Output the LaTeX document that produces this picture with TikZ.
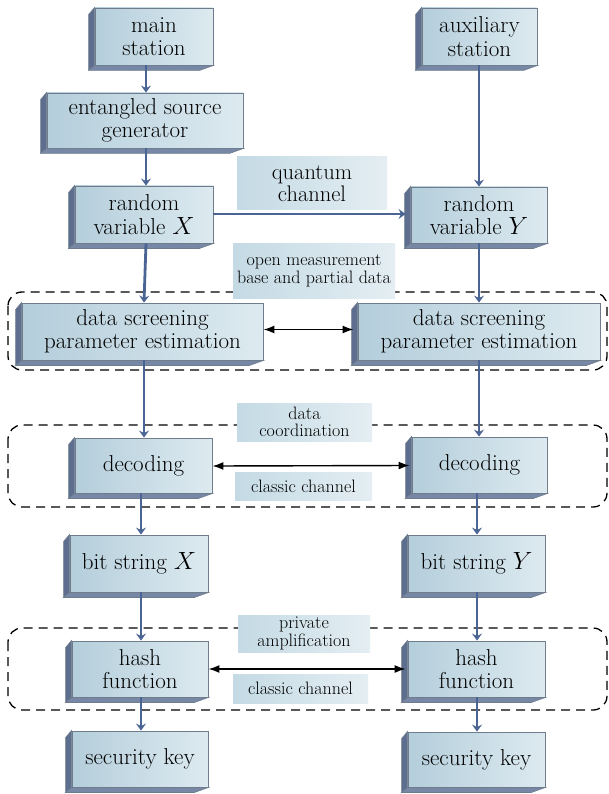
\documentclass[tikz,border=0pt]{standalone}
\usetikzlibrary{arrows.meta,calc}
\definecolor{faceL}{HTML}{B4CEDB}
\definecolor{faceR}{HTML}{DDEAF0}
\definecolor{boxline}{HTML}{6E7C8C}
\definecolor{stripL}{HTML}{5D6E8E}
\definecolor{stripB}{HTML}{7787A6}
\definecolor{labL}{HTML}{C4DAE4}
\definecolor{labR}{HTML}{E4EEF3}
\definecolor{arrblue}{HTML}{4A6494}
\tikzset{
  box/.style={draw=boxline, line width=0.9pt, left color=faceL, right color=faceR,
    align=center, inner sep=0pt, font=\fontsize{23}{23.5}\selectfont},
  lab/.style={left color=labL, right color=labR, align=center, inner sep=0pt,
    font=\fontsize{18}{17.5}\selectfont},
  biglab/.style={lab, font=\fontsize{22.5}{22.5}\selectfont},
  grp/.style={draw=black, line width=1.3pt, dash pattern=on 9pt off 6pt, rounded corners=14pt},
  barrow/.style={draw=arrblue, line width=2.8pt, -{Stealth[length=7pt,width=10pt,inset=2.5pt]}},
  karrow/.style={draw=black, line width=1.4pt, {Latex[length=11pt,width=8pt]}-{Latex[length=11pt,width=8pt]}},
  sideL/.style={fill=stripL, draw=boxline, line width=0.6pt},
  sideB/.style={fill=stripB, draw=boxline, line width=0.6pt}
}
\newcommand{\bx}[6]{%
  \node[box, minimum width={(#3-#2)*1pt}, minimum height={(#5-#4)*1pt}] (#1) at ({(#2+#3)/2},{(#4+#5)/2}) {#6};
  \filldraw[sideL] (#1.north west) -- ++(-6,7) -- ($(#1.south west)+(-6,5)$) -- (#1.south west) -- cycle;
  \filldraw[sideB] (#1.south west) -- (#1.south east) -- ++(-14,5) -- ($(#1.south west)+(-6,5)$) -- cycle;
}
\begin{document}
\begin{tikzpicture}[x=1pt,y=-1pt]
\useasboundingbox[fill=white] (0,0) rectangle (609,794);
% group frames
\draw[grp] (8,292) rectangle (607,370);
\draw[grp] (8,425) rectangle (607,507);
\draw[grp] (8,628) rectangle (607,710);
% labels
\node[biglab, minimum width=150pt, minimum height=53pt] (lq) at (312,183.5) {quantum\\channel};
\node[lab, minimum width=162pt, minimum height=55pt] (lo) at (314,270.5) {open measurement\\base and partial data};
\node[lab, minimum width=135pt, minimum height=38pt] (ldc) at (304.5,422) {data\\coordination};
\node[lab, minimum width=137pt, minimum height=28pt] (lc1) at (303.5,486) {classic channel};
\node[lab, minimum width=132pt, minimum height=37pt] (lpa) at (304,633.5) {private\\amplification};
\node[lab, minimum width=135pt, minimum height=29pt] (lc2) at (300.5,688.5) {classic channel};
% left column
\bx{main}{95}{213}{8}{65}{main\\station}
\bx{ent}{47}{243}{93}{148}{entangled source\\generator}
\bx{randX}{75}{213}{186}{243}{random\\variable $X$}
\bx{dsL}{22}{263}{303}{360}{data screening\\parameter estimation}
\bx{decL}{75}{212}{438}{493}{decoding}
\bx{bitX}{70}{208}{535}{592}{bit string $X$}
\bx{hashL}{72}{208}{641}{697}{hash\\function}
\bx{keyL}{72}{208}{731}{787}{security key}
% right column
\bx{aux}{422}{537}{8}{65}{auxiliary\\station}
\bx{randY}{411}{547}{187}{243}{random\\variable $Y$}
\bx{dsR}{358}{600}{303}{360}{data screening\\parameter estimation}
\bx{decR}{412}{547}{437}{493}{decoding}
\bx{bitY}{408}{545}{535}{592}{bit string $Y$}
\bx{hashR}{408}{545}{641}{697}{hash\\function}
\bx{keyR}{408}{545}{732}{787}{security key}
% column coordinates
\coordinate (cA) at (146,0);
\coordinate (cB) at (144,0);
\coordinate (cC) at (141,0);
\coordinate (dA) at (479,0);
\coordinate (dB) at (477,0);
\coordinate (qy) at (0,214);
% blue arrows
\draw[barrow] (main.south -| cA) -- (ent.north -| cA);
\draw[barrow] (ent.south -| cA) -- (randX.north -| cA);
\draw[barrow] (randX.south -| cA) -- (dsL.north -| cB);
\draw[barrow] (dsL.south -| cB) -- (decL.north -| cB);
\draw[barrow] (decL.south -| cC) -- (bitX.north -| cC);
\draw[barrow] (bitX.south -| cC) -- (hashL.north -| cC);
\draw[barrow] (hashL.south -| cC) -- (keyL.north -| cC);
\draw[barrow] (aux.south -| dA) -- (randY.north -| dA);
\draw[barrow] (randY.south -| dA) -- (dsR.north -| dA);
\draw[barrow] (dsR.south -| dA) -- (decR.north -| dA);
\draw[barrow] (decR.south -| dB) -- (bitY.north -| dB);
\draw[barrow] (bitY.south -| dB) -- (hashR.north -| dB);
\draw[barrow] (hashR.south -| dB) -- (keyR.north -| dB);
\coordinate (qend) at ($(randY.west |- qy)+(-5,0)$);
\draw[barrow] (randX.east |- qy) -- (qend);
% black double arrows
\coordinate (e1) at ($(dsR.west)+(-4,0)$);
\coordinate (e2) at ($(decR.west)+(-2,0)$);
\coordinate (e3) at ($(hashR.west)+(-2,0)$);
\draw[karrow] ($(dsL.east)+(0,-2)$) -- ($(e1)+(0,-2)$);
\draw[karrow] ($(decL.east)+(0,0.5)$) -- ($(e2)+(0,0.5)$);
\draw[karrow] (hashL.east) -- (e3);
\end{tikzpicture}
\end{document}
